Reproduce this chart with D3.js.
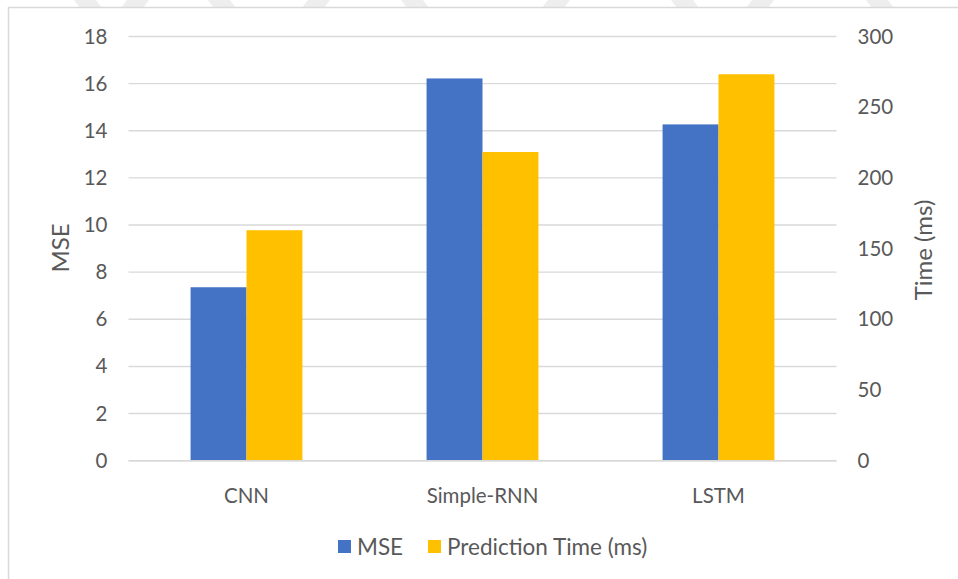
<!DOCTYPE html>
<html>
<head>
<meta charset="utf-8">
<script src="https://cdn.jsdelivr.net/npm/d3@7/dist/d3.min.js"></script>
<style>
  html, body { margin: 0; padding: 0; background: #fff; }
  svg { display: block; }
  text { font-family: Lato, "Open Sans", sans-serif; fill: #595959; }
</style>
</head>
<body>
<svg id="chart" width="958" height="579"></svg>
<script>
// Models compared
const categories = ["CNN", "Simple-RNN", "LSTM"];
// Mean squared error per model (left axis)
const mseValues = [7.36, 16.22, 14.27];
// Prediction time per model in milliseconds (right axis)
const timeValues = [163, 218.3, 273.3];
// Axis ticks
const mseTicks = [0, 2, 4, 6, 8, 10, 12, 14, 16, 18];
const timeTicks = [0, 50, 100, 150, 200, 250, 300];
const seriesNames = ["MSE", "Prediction Time (ms)"];
const seriesColors = ["#4472C4", "#FFC000"];

const svg = d3.select("#chart");

// faint decorative chevrons along the top edge
const stripeXs = [88, 135, 222, 316, 415, 556, 685, 760, 880, 990];
svg.append("g").selectAll("path").data(stripeXs).join("path")
  .attr("d", (d, i) => i % 2 === 0
    ? `M${d - 14},0 L${d + 8},0 L${d + 14},8 L${d - 8},8 Z`
    : `M${d - 8},0 L${d + 14},0 L${d + 8},8 L${d - 14},8 Z`)
  .attr("fill", "#eeeeee");

// chart frame (left and top edges visible)
svg.append("path")
  .attr("d", "M8.5,579 L8.5,7.5 L958,7.5")
  .attr("fill", "none").attr("stroke", "#d9d9d9").attr("stroke-width", 1.5);

const plot = { left: 128.5, right: 836.5, top: 36.5, bottom: 460.7 };

const x0 = d3.scaleBand().domain(categories)
  .range([plot.left, plot.right]).paddingInner(0.526).paddingOuter(0.263);
const x1 = d3.scaleBand().domain(seriesNames).range([0, x0.bandwidth()]);
const yL = d3.scaleLinear().domain([0, 18]).range([plot.bottom, plot.top]);
const yR = d3.scaleLinear().domain([0, 300]).range([plot.bottom, plot.top]);

// gridlines from the left axis
svg.append("g").selectAll("line").data(mseTicks).join("line")
  .attr("x1", plot.left).attr("x2", plot.right)
  .attr("y1", d => yL(d)).attr("y2", d => yL(d))
  .attr("stroke", "#d9d9d9").attr("stroke-width", 1.4);

// bars
const groups = svg.append("g").selectAll("g").data(categories).join("g")
  .attr("transform", d => `translate(${x0(d)},0)`);
groups.append("rect")
  .attr("x", x1("MSE")).attr("width", x1.bandwidth())
  .attr("y", (d, i) => yL(mseValues[i]))
  .attr("height", (d, i) => yL(0) - yL(mseValues[i]))
  .attr("fill", seriesColors[0]);
groups.append("rect")
  .attr("x", x1("Prediction Time (ms)")).attr("width", x1.bandwidth())
  .attr("y", (d, i) => yR(timeValues[i]))
  .attr("height", (d, i) => yR(0) - yR(timeValues[i]))
  .attr("fill", seriesColors[1]);

// baseline
svg.append("line")
  .attr("x1", plot.left).attr("x2", plot.right)
  .attr("y1", yL(0)).attr("y2", yL(0))
  .attr("stroke", "#d9d9d9").attr("stroke-width", 1.4);

const tickFont = "20.5px";

// left axis
const leftAxis = svg.append("g")
  .attr("transform", `translate(${plot.left - 21},0)`)
  .call(d3.axisLeft(yL).tickValues(mseTicks).tickSize(0).tickPadding(0));
leftAxis.select(".domain").remove();
leftAxis.selectAll("text").style("font-size", tickFont).style("font-family", null).attr("fill", "#595959");

// right axis
const rightAxis = svg.append("g")
  .attr("transform", `translate(${plot.right + 21},0)`)
  .call(d3.axisRight(yR).tickValues(timeTicks).tickSize(0).tickPadding(0));
rightAxis.select(".domain").remove();
rightAxis.selectAll("text").style("font-size", tickFont).style("font-family", null).attr("fill", "#595959");

// category axis
const bottomAxis = svg.append("g")
  .attr("transform", `translate(0,${plot.bottom + 28})`)
  .call(d3.axisBottom(x0).tickSize(0).tickPadding(0));
bottomAxis.select(".domain").remove();
bottomAxis.selectAll("text").style("font-size", tickFont).style("font-family", null).attr("fill", "#595959");

// axis titles
svg.append("text")
  .attr("transform", "translate(59,248) rotate(-90)")
  .attr("text-anchor", "middle").attr("dominant-baseline", "central")
  .style("font-size", "24px").text("MSE");
svg.append("text")
  .attr("transform", "translate(922,250) rotate(-90)")
  .attr("text-anchor", "middle").attr("dominant-baseline", "central")
  .style("font-size", "24px").text("Time (ms)");

// legend
const legendX = [338, 428];
const legend = svg.append("g").selectAll("g").data(seriesNames).join("g")
  .attr("transform", (d, i) => `translate(${legendX[i]},540)`);
legend.append("rect").attr("width", 13).attr("height", 13)
  .attr("fill", (d, i) => seriesColors[i]);
legend.append("text").attr("x", 19).attr("y", 6.5)
  .attr("dominant-baseline", "central")
  .style("font-size", "22.5px").text(d => d);
</script>
</body>
</html>
